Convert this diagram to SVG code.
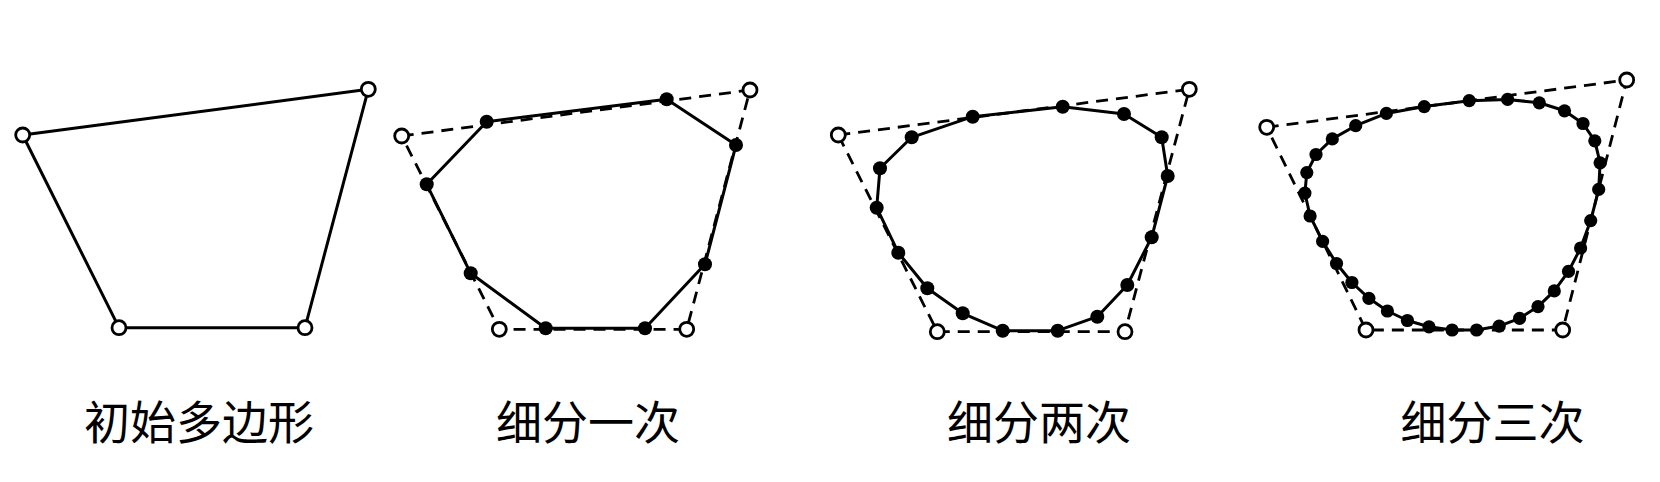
<svg xmlns="http://www.w3.org/2000/svg" width="1660" height="482" viewBox="0 0 1660 482">
<style>
.solid{fill:none;stroke:#000;stroke-width:3;stroke-linejoin:round}
.dash{fill:none;stroke:#000;stroke-width:2.8;stroke-dasharray:12 8}
.ctrl{fill:#fff;stroke:#000;stroke-width:2.8}
.dot{fill:#000}
.lbl{font-family:"Noto Sans CJK SC","Noto Sans CJK JP",sans-serif;font-size:46px;fill:#000;text-anchor:middle}
</style>
<rect width="1660" height="482" fill="#fff"/>
<g id="connectors">
<polygon class="solid" points="22.7,135 368.3,89.3 305,327.7 119,327.7"/>
<polygon class="dash" points="401.7,136 750,90 686.7,329.3 499.3,329.3"/>
<polygon class="solid" points="486.7,121.7 666.7,99.3 736,145 705,264.3 645,328.3 545.7,328.3 470.7,273.3 426.7,184.3"/>
<polygon class="dash" points="838.3,135 1189.3,89.3 1125,331.7 937.3,331.7"/>
<polygon class="solid" points="972.7,116.7 1062.7,106.7 1124,114 1161.7,137.3 1167.7,176 1151.7,237.3 1127.3,285 1097.3,316.7 1057.7,330.7 1002.7,330.7 962.7,313.3 927.3,288.3 898.3,252.7 876.7,207.7 880,168.3 911.7,137.3"/>
<polygon class="dash" points="1266.7,127.3 1626.7,80 1562.7,330 1366,330"/>
<polygon class="solid" points="1424.2,106.6 1469.2,100.7 1507.6,99.4 1539.3,102.8 1564.5,110.8 1583,123.5 1594.8,140.8 1600.1,162.8 1598.7,189.4 1590.7,220.6 1580.6,248 1568.5,271.4 1554.3,290.9 1538,306.6 1519.6,318.3 1499.2,326.1 1476.6,330 1452.1,330 1429,326.8 1407.4,320.5 1387.4,311 1368.9,298.3 1351.9,282.5 1336.5,263.5 1322.6,241.3 1310.1,216 1304.9,193.1 1306.8,172.6 1316,154.5 1332.3,138.9 1355.7,125.7 1386.4,113.4"/>
</g>
<g id="panel1">
<circle class="ctrl" cx="22.7" cy="135" r="7"/>
<circle class="ctrl" cx="368.3" cy="89.3" r="7"/>
<circle class="ctrl" cx="305" cy="327.7" r="7"/>
<circle class="ctrl" cx="119" cy="327.7" r="7"/>
<text class="lbl" x="199" y="439">初始多边形</text>
</g>
<g id="panel2">
<g class="dot">
<circle cx="486.7" cy="121.7" r="7"/><circle cx="666.7" cy="99.3" r="7"/><circle cx="736" cy="145" r="7"/><circle cx="705" cy="264.3" r="7"/>
<circle cx="645" cy="328.3" r="7"/><circle cx="545.7" cy="328.3" r="7"/><circle cx="470.7" cy="273.3" r="7"/><circle cx="426.7" cy="184.3" r="7"/>
</g>
<circle class="ctrl" cx="401.7" cy="136" r="7"/>
<circle class="ctrl" cx="750" cy="90" r="7"/>
<circle class="ctrl" cx="686.7" cy="329.3" r="7"/>
<circle class="ctrl" cx="499.3" cy="329.3" r="7"/>
<text class="lbl" x="588" y="439">细分一次</text>
</g>
<g id="panel3">
<g class="dot">
<circle cx="972.7" cy="116.7" r="7"/><circle cx="1062.7" cy="106.7" r="7"/><circle cx="1124" cy="114" r="7"/><circle cx="1161.7" cy="137.3" r="7"/>
<circle cx="1167.7" cy="176" r="7"/><circle cx="1151.7" cy="237.3" r="7"/><circle cx="1127.3" cy="285" r="7"/><circle cx="1097.3" cy="316.7" r="7"/>
<circle cx="1057.7" cy="330.7" r="7"/><circle cx="1002.7" cy="330.7" r="7"/><circle cx="962.7" cy="313.3" r="7"/><circle cx="927.3" cy="288.3" r="7"/>
<circle cx="898.3" cy="252.7" r="7"/><circle cx="876.7" cy="207.7" r="7"/><circle cx="880" cy="168.3" r="7"/><circle cx="911.7" cy="137.3" r="7"/>
</g>
<circle class="ctrl" cx="838.3" cy="135" r="7"/>
<circle class="ctrl" cx="1189.3" cy="89.3" r="7"/>
<circle class="ctrl" cx="1125" cy="331.7" r="7"/>
<circle class="ctrl" cx="937.3" cy="331.7" r="7"/>
<text class="lbl" x="1039" y="439">细分两次</text>
</g>
<g id="panel4">
<g class="dot">
<circle cx="1424.2" cy="106.6" r="6.6"/><circle cx="1469.2" cy="100.7" r="6.6"/><circle cx="1507.6" cy="99.4" r="6.6"/><circle cx="1539.3" cy="102.8" r="6.6"/>
<circle cx="1564.5" cy="110.8" r="6.6"/><circle cx="1583" cy="123.5" r="6.6"/><circle cx="1594.8" cy="140.8" r="6.6"/><circle cx="1600.1" cy="162.8" r="6.6"/>
<circle cx="1598.7" cy="189.4" r="6.6"/><circle cx="1590.7" cy="220.6" r="6.6"/><circle cx="1580.6" cy="248" r="6.6"/><circle cx="1568.5" cy="271.4" r="6.6"/>
<circle cx="1554.3" cy="290.9" r="6.6"/><circle cx="1538" cy="306.6" r="6.6"/><circle cx="1519.6" cy="318.3" r="6.6"/><circle cx="1499.2" cy="326.1" r="6.6"/>
<circle cx="1476.6" cy="330" r="6.6"/><circle cx="1452.1" cy="330" r="6.6"/><circle cx="1429" cy="326.8" r="6.6"/><circle cx="1407.4" cy="320.5" r="6.6"/>
<circle cx="1387.4" cy="311" r="6.6"/><circle cx="1368.9" cy="298.3" r="6.6"/><circle cx="1351.9" cy="282.5" r="6.6"/><circle cx="1336.5" cy="263.5" r="6.6"/>
<circle cx="1322.6" cy="241.3" r="6.6"/><circle cx="1310.1" cy="216" r="6.6"/><circle cx="1304.9" cy="193.1" r="6.6"/><circle cx="1306.8" cy="172.6" r="6.6"/>
<circle cx="1316" cy="154.5" r="6.6"/><circle cx="1332.3" cy="138.9" r="6.6"/><circle cx="1355.7" cy="125.7" r="6.6"/><circle cx="1386.4" cy="113.4" r="6.6"/>
</g>
<circle class="ctrl" cx="1266.7" cy="127.3" r="7"/>
<circle class="ctrl" cx="1626.7" cy="80" r="7"/>
<circle class="ctrl" cx="1562.7" cy="330" r="7"/>
<circle class="ctrl" cx="1366" cy="330" r="7"/>
<text class="lbl" x="1492.5" y="439">细分三次</text>
</g>
</svg>
